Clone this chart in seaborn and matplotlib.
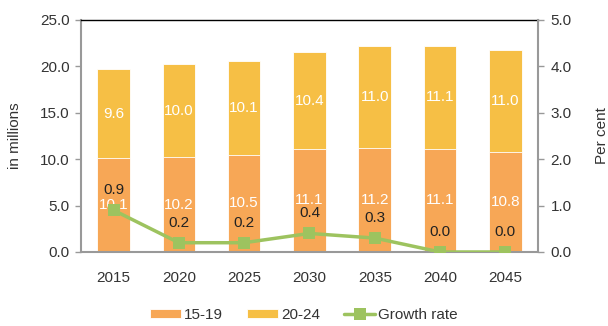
import matplotlib
matplotlib.use("Agg")
import matplotlib.pyplot as plt
import seaborn as sns
import pandas as pd
import numpy as np

years = ["2015", "2020", "2025", "2030", "2035", "2040", "2045"]
age_15_19 = [10.1, 10.2, 10.5, 11.1, 11.2, 11.1, 10.8]
age_20_24 = [9.6, 10.0, 10.1, 10.4, 11.0, 11.1, 11.0]
growth_rate = [0.9, 0.2, 0.2, 0.4, 0.3, 0.0, 0.0]

c_lo = "#F7A756"
c_hi = "#F6BF45"
c_line = "#9DC35F"
grey = "#999999"
txt = "#333333"
fs = 11

sns.set_theme(style="white")
plt.rcParams["font.family"] = ["Liberation Sans", "DejaVu Sans"]
plt.rcParams["font.size"] = fs

df = pd.DataFrame({"year": years, "lo": age_15_19, "hi": age_20_24,
                   "total": np.array(age_15_19) + np.array(age_20_24)})

fig = plt.figure(figsize=(6.08, 3.26), dpi=100)
ax = fig.add_axes([0.133, 0.227, 0.752, 0.712])

sns.barplot(data=df, x="year", y="total", color=c_hi, width=0.5,
            saturation=1, ax=ax, label="20-24", edgecolor="white", linewidth=0.6)
sns.barplot(data=df, x="year", y="lo", color=c_lo, width=0.5,
            saturation=1, ax=ax, label="15-19", edgecolor="white", linewidth=0.6)

for i, (a, b) in enumerate(zip(age_15_19, age_20_24)):
    ax.text(i, a / 2, f"{a:.1f}", ha="center", va="center", color="white", fontsize=fs)
    ax.text(i, a + b / 2, f"{b:.1f}", ha="center", va="center", color="white", fontsize=fs)

ax.set_ylim(0, 25)
ax.set_xlim(-0.5, 6.5)
ax.set_yticks(np.arange(0, 25.1, 5))
ax.set_yticklabels([f"{v:.1f}" for v in np.arange(0, 25.1, 5)])
ax.set_xlabel("")
ax.set_ylabel("in millions", color=txt, fontsize=fs)
ax.yaxis.set_label_coords(-0.128, 0.5)
ax.set_xticks(range(7))
ax.set_xticklabels(years)
ax.set_xticks(np.arange(-0.5, 7, 1), minor=True)
ax.tick_params(axis="x", which="major", length=0, pad=14, colors=txt, labelsize=fs)
ax.tick_params(axis="x", which="minor", length=4, color=grey, width=1, direction="out")
ax.tick_params(axis="y", length=4, color=grey, width=1, colors=txt, labelsize=fs, pad=4)
for s in ["left", "bottom"]:
    ax.spines[s].set_color(grey)
    ax.spines[s].set_linewidth(1.5)
ax.spines["top"].set_color("black")
ax.spines["top"].set_linewidth(1)
ax.spines["right"].set_visible(False)

ax2 = ax.twinx()
sns.lineplot(x=list(range(7)), y=growth_rate, ax=ax2, color=c_line, linewidth=2.5,
             marker="s", markersize=8, markeredgewidth=0, label="Growth rate")
ax2.set_ylim(0, 5)
ax2.set_yticks(np.arange(0, 5.1, 1))
ax2.set_yticklabels([f"{v:.1f}" for v in np.arange(0, 5.1, 1)])
ax2.set_ylabel("Per cent", color=txt, fontsize=fs)
ax2.yaxis.set_label_coords(1.124, 0.5)
ax2.tick_params(axis="y", length=4, color=grey, width=1, colors=txt, labelsize=fs, pad=5)
for s in ["left", "bottom", "top"]:
    ax2.spines[s].set_visible(False)
ax2.spines["right"].set_color(grey)
ax2.spines["right"].set_linewidth(1.5)
ax2.set_xlim(-0.5, 6.5)

for i, g in enumerate(growth_rate):
    ax2.text(i, g + 0.43, f"{g:.1f}", ha="center", va="center", color="#222222", fontsize=fs)

if ax2.get_legend():
    ax2.get_legend().remove()
if ax.get_legend():
    ax.get_legend().remove()

h1, l1 = ax.get_legend_handles_labels()
h2, l2 = ax2.get_legend_handles_labels()
handles = {l: h for h, l in zip(h1 + h2, l1 + l2)}
order = ["15-19", "20-24", "Growth rate"]
fig.legend([handles[k] for k in order], order, loc="center", bbox_to_anchor=(0.5, 0.035),
           ncol=3, frameon=False, fontsize=fs, handlelength=2.0, handleheight=0.5,
           columnspacing=1.6, handletextpad=0.2, labelcolor=txt)

fig.savefig("out.png", dpi=100)
